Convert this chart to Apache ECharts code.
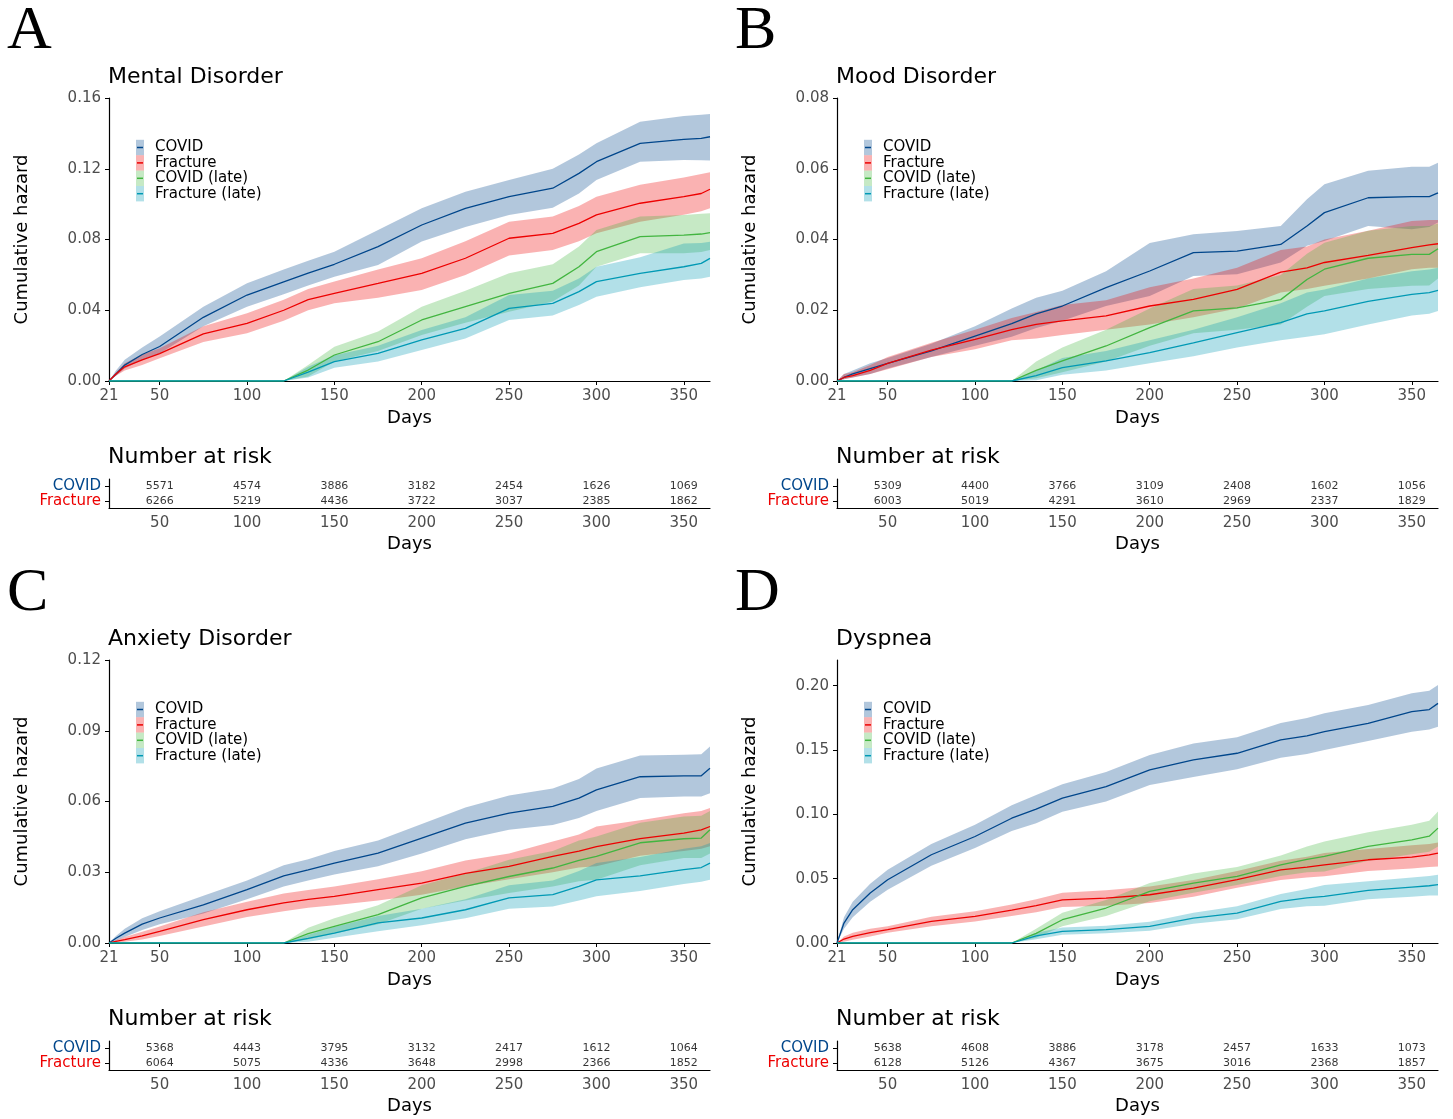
<!DOCTYPE html>
<html>
<head>
<meta charset="utf-8">
<title>Cumulative hazard</title>
<script src="https://cdn.jsdelivr.net/npm/echarts@6/dist/echarts.min.js"></script>
<style>
  html, body { margin: 0; padding: 0; background: #fff; }
  #main { width: 1453px; height: 1119px; }
</style>
</head>
<body>
<div id="main"></div>
<script>
var days = [21, 25, 30, 40, 50, 75, 100, 121, 135, 150, 175, 200, 225, 250, 275, 290, 300, 325, 350, 360, 365];

// A: mental disorder
var mentalCovid     = [0, 0.004, 0.009, 0.015, 0.0195, 0.036, 0.0486, 0.056, 0.061, 0.066, 0.076, 0.0882, 0.0976, 0.1042, 0.109, 0.1174, 0.124, 0.1344, 0.1366, 0.1372, 0.1381];
var mentalCovidLo   = [0, 0.003, 0.007, 0.012, 0.0156, 0.031, 0.042, 0.049, 0.054, 0.059, 0.0656, 0.0788, 0.087, 0.0939, 0.098, 0.106, 0.1136, 0.124, 0.125, 0.1248, 0.1246];
var mentalCovidHi   = [0, 0.006, 0.012, 0.019, 0.0251, 0.042, 0.0552, 0.063, 0.068, 0.0731, 0.0854, 0.0976, 0.107, 0.1136, 0.12, 0.128, 0.1344, 0.1466, 0.1498, 0.1505, 0.151];
var mentalFrac      = [0, 0.004, 0.008, 0.012, 0.0155, 0.0266, 0.0326, 0.040, 0.046, 0.0496, 0.0552, 0.0609, 0.0694, 0.0807, 0.0835, 0.0891, 0.0939, 0.1005, 0.1042, 0.106, 0.1084];
var mentalFracLo    = [0, 0.003, 0.006, 0.009, 0.0128, 0.022, 0.027, 0.034, 0.040, 0.0439, 0.047, 0.0515, 0.06, 0.071, 0.074, 0.079, 0.0835, 0.09, 0.094, 0.096, 0.0976];
var mentalFracHi    = [0, 0.005, 0.010, 0.015, 0.0185, 0.031, 0.0383, 0.046, 0.052, 0.0562, 0.063, 0.0694, 0.079, 0.09, 0.093, 0.099, 0.1042, 0.111, 0.115, 0.117, 0.118];
var mentalCovidL    = [0, 0, 0, 0, 0, 0, 0, 0, 0.0062, 0.0147, 0.0222, 0.0345, 0.042, 0.0496, 0.0552, 0.0646, 0.0731, 0.0816, 0.0825, 0.0831, 0.0839];
var mentalCovidLLo  = [0, 0, 0, 0, 0, 0, 0, 0, 0.0025, 0.011, 0.017, 0.026, 0.033, 0.0392, 0.045, 0.054, 0.0646, 0.0722, 0.0722, 0.073, 0.0741];
var mentalCovidLHi  = [0, 0, 0, 0, 0, 0, 0, 0, 0.009, 0.0194, 0.028, 0.042, 0.051, 0.0609, 0.066, 0.076, 0.0854, 0.093, 0.0939, 0.0945, 0.0948];
var mentalFracL     = [0, 0, 0, 0, 0, 0, 0, 0, 0.005, 0.011, 0.0156, 0.0232, 0.0298, 0.0411, 0.0439, 0.0505, 0.0562, 0.0609, 0.0646, 0.0665, 0.0693];
var mentalFracLLo   = [0, 0, 0, 0, 0, 0, 0, 0, 0.002, 0.0075, 0.011, 0.0175, 0.024, 0.0345, 0.037, 0.043, 0.0477, 0.053, 0.0571, 0.058, 0.059];
var mentalFracLHi   = [0, 0, 0, 0, 0, 0, 0, 0, 0.008, 0.0145, 0.02, 0.0288, 0.036, 0.0486, 0.051, 0.058, 0.0646, 0.070, 0.0778, 0.078, 0.0787];

// B: mood disorder
var moodCovid       = [0, 0.001, 0.002, 0.0035, 0.005, 0.0085, 0.0127, 0.0162, 0.019, 0.0212, 0.0264, 0.0311, 0.0363, 0.0367, 0.0386, 0.0438, 0.0476, 0.0518, 0.0521, 0.0521, 0.0532];
var moodCovidLo     = [0, 0.0005, 0.001, 0.002, 0.0035, 0.0068, 0.01, 0.0125, 0.015, 0.017, 0.0212, 0.024, 0.0297, 0.0302, 0.0335, 0.0382, 0.0396, 0.0438, 0.0429, 0.0435, 0.0448];
var moodCovidHi     = [0, 0.002, 0.003, 0.005, 0.0065, 0.0105, 0.0155, 0.0205, 0.0235, 0.0255, 0.031, 0.039, 0.0415, 0.0424, 0.0438, 0.0514, 0.0556, 0.0594, 0.0606, 0.0606, 0.0617];
var moodFrac        = [0, 0.001, 0.0015, 0.003, 0.005, 0.0087, 0.0118, 0.0145, 0.016, 0.017, 0.0184, 0.0212, 0.0231, 0.0259, 0.0308, 0.032, 0.0335, 0.0355, 0.0377, 0.0385, 0.0388];
var moodFracLo      = [0, 0.0005, 0.001, 0.002, 0.0033, 0.0068, 0.009, 0.0115, 0.012, 0.013, 0.0145, 0.016, 0.018, 0.0205, 0.025, 0.026, 0.0269, 0.029, 0.0316, 0.032, 0.032];
var moodFracHi      = [0, 0.002, 0.0025, 0.0045, 0.0068, 0.0108, 0.0145, 0.0178, 0.0195, 0.0215, 0.0228, 0.0265, 0.029, 0.032, 0.037, 0.038, 0.040, 0.0425, 0.0452, 0.0455, 0.0455];
var moodCovidL      = [0, 0, 0, 0, 0, 0, 0, 0, 0.003, 0.0057, 0.0099, 0.0151, 0.0198, 0.0207, 0.023, 0.0287, 0.0316, 0.0347, 0.0358, 0.0358, 0.0374];
var moodCovidLLo    = [0, 0, 0, 0, 0, 0, 0, 0, 0.0008, 0.0025, 0.0055, 0.010, 0.0135, 0.0145, 0.016, 0.021, 0.024, 0.026, 0.0269, 0.027, 0.029];
var moodCovidLHi    = [0, 0, 0, 0, 0, 0, 0, 0, 0.0055, 0.0095, 0.0145, 0.0205, 0.026, 0.027, 0.030, 0.036, 0.0391, 0.0425, 0.0438, 0.0438, 0.0445];
var moodFracL       = [0, 0, 0, 0, 0, 0, 0, 0, 0.0015, 0.0038, 0.0057, 0.008, 0.0108, 0.0137, 0.0165, 0.019, 0.0198, 0.0225, 0.0245, 0.025, 0.0256];
var moodFracLLo     = [0, 0, 0, 0, 0, 0, 0, 0, 0.0002, 0.0018, 0.003, 0.005, 0.007, 0.0095, 0.0115, 0.0125, 0.0132, 0.016, 0.0185, 0.019, 0.0198];
var moodFracLHi     = [0, 0, 0, 0, 0, 0, 0, 0, 0.003, 0.0065, 0.0085, 0.0115, 0.0145, 0.018, 0.022, 0.025, 0.0259, 0.029, 0.031, 0.0315, 0.032];

// C: anxiety disorder
var anxCovid        = [0, 0.002, 0.0042, 0.008, 0.0106, 0.0162, 0.0226, 0.0285, 0.031, 0.0339, 0.0381, 0.0445, 0.0508, 0.0551, 0.0579, 0.0614, 0.0649, 0.0705, 0.0709, 0.0709, 0.0741];
var anxCovidLo      = [0, 0.001, 0.0025, 0.0055, 0.008, 0.0125, 0.0185, 0.024, 0.0265, 0.029, 0.0325, 0.038, 0.044, 0.048, 0.050, 0.053, 0.056, 0.0615, 0.0621, 0.0621, 0.0635];
var anxCovidHi      = [0, 0.003, 0.006, 0.0105, 0.0135, 0.020, 0.0265, 0.033, 0.0355, 0.039, 0.0435, 0.0505, 0.0575, 0.0625, 0.0655, 0.0695, 0.074, 0.0795, 0.0798, 0.080, 0.0833];
var anxFrac         = [0, 0.0007, 0.0014, 0.003, 0.0049, 0.0099, 0.0141, 0.017, 0.0185, 0.0198, 0.0226, 0.0254, 0.0295, 0.0325, 0.0367, 0.039, 0.0409, 0.0443, 0.0466, 0.048, 0.0494];
var anxFracLo       = [0, 0.0002, 0.0005, 0.0015, 0.003, 0.007, 0.011, 0.0135, 0.015, 0.016, 0.018, 0.0205, 0.024, 0.027, 0.030, 0.032, 0.0325, 0.037, 0.039, 0.040, 0.041];
var anxFracHi       = [0, 0.0012, 0.0025, 0.0048, 0.007, 0.013, 0.0175, 0.021, 0.0225, 0.024, 0.027, 0.0304, 0.035, 0.038, 0.043, 0.046, 0.0494, 0.052, 0.055, 0.056, 0.0572];
var anxCovidL       = [0, 0, 0, 0, 0, 0, 0, 0, 0.004, 0.0071, 0.012, 0.0191, 0.024, 0.0282, 0.0318, 0.035, 0.0367, 0.0425, 0.0442, 0.0445, 0.048];
var anxCovidLLo     = [0, 0, 0, 0, 0, 0, 0, 0, 0.0015, 0.004, 0.008, 0.0145, 0.018, 0.0212, 0.024, 0.0262, 0.0268, 0.033, 0.036, 0.036, 0.038];
var anxCovidLHi     = [0, 0, 0, 0, 0, 0, 0, 0, 0.0065, 0.0105, 0.016, 0.0245, 0.0295, 0.0353, 0.039, 0.0435, 0.0452, 0.051, 0.0536, 0.054, 0.056];
var anxFracL        = [0, 0, 0, 0, 0, 0, 0, 0, 0.002, 0.0042, 0.0085, 0.0106, 0.0141, 0.0191, 0.0205, 0.024, 0.0268, 0.0285, 0.0311, 0.032, 0.0339];
var anxFracLLo      = [0, 0, 0, 0, 0, 0, 0, 0, 0.0005, 0.0022, 0.005, 0.0075, 0.0105, 0.0145, 0.0155, 0.018, 0.0198, 0.022, 0.025, 0.026, 0.0268];
var anxFracLHi      = [0, 0, 0, 0, 0, 0, 0, 0, 0.0035, 0.0068, 0.0115, 0.0145, 0.0185, 0.0245, 0.0265, 0.0305, 0.0339, 0.0365, 0.040, 0.041, 0.0424];

// D: dyspnea
var dysCovid        = [0, 0.0155, 0.0259, 0.0388, 0.0492, 0.0686, 0.0828, 0.097, 0.104, 0.1126, 0.1216, 0.1346, 0.1423, 0.1475, 0.1579, 0.161, 0.1643, 0.1708, 0.1799, 0.1815, 0.1863];
var dysCovidLo      = [0, 0.011, 0.020, 0.032, 0.0414, 0.060, 0.0738, 0.087, 0.093, 0.102, 0.11, 0.1229, 0.129, 0.135, 0.144, 0.147, 0.1501, 0.157, 0.1643, 0.166, 0.1682];
var dysCovidHi      = [0, 0.020, 0.032, 0.046, 0.057, 0.077, 0.0919, 0.107, 0.115, 0.1235, 0.133, 0.1462, 0.155, 0.160, 0.171, 0.175, 0.1786, 0.185, 0.1941, 0.196, 0.2006];
var dysFrac         = [0, 0.0031, 0.0052, 0.008, 0.0104, 0.0168, 0.0207, 0.0255, 0.029, 0.0336, 0.0349, 0.0375, 0.0427, 0.0492, 0.0569, 0.059, 0.0608, 0.0647, 0.0668, 0.0685, 0.0699];
var dysFracLo       = [0, 0.001, 0.0025, 0.005, 0.008, 0.013, 0.0168, 0.021, 0.024, 0.028, 0.029, 0.031, 0.036, 0.043, 0.049, 0.051, 0.0518, 0.056, 0.058, 0.059, 0.0595];
var dysFracHi       = [0, 0.005, 0.008, 0.011, 0.013, 0.0205, 0.0246, 0.030, 0.034, 0.039, 0.041, 0.044, 0.049, 0.056, 0.064, 0.067, 0.0699, 0.073, 0.076, 0.077, 0.0782];
var dysCovidL       = [0, 0, 0, 0, 0, 0, 0, 0, 0.0075, 0.0181, 0.0272, 0.0401, 0.0466, 0.0518, 0.0608, 0.065, 0.0673, 0.0751, 0.0802, 0.083, 0.0893];
var dysCovidLLo     = [0, 0, 0, 0, 0, 0, 0, 0, 0.004, 0.013, 0.021, 0.0324, 0.039, 0.045, 0.052, 0.055, 0.0556, 0.064, 0.069, 0.071, 0.0751];
var dysCovidLHi     = [0, 0, 0, 0, 0, 0, 0, 0, 0.011, 0.0235, 0.0335, 0.0466, 0.054, 0.059, 0.068, 0.075, 0.0789, 0.086, 0.092, 0.095, 0.1022];
var dysFracL        = [0, 0, 0, 0, 0, 0, 0, 0, 0.0055, 0.0091, 0.0104, 0.0129, 0.0194, 0.0233, 0.0324, 0.035, 0.0362, 0.0409, 0.0435, 0.0445, 0.0453];
var dysFracLLo      = [0, 0, 0, 0, 0, 0, 0, 0, 0.003, 0.0065, 0.0075, 0.0095, 0.015, 0.0185, 0.0265, 0.0285, 0.029, 0.034, 0.036, 0.037, 0.037];
var dysFracLHi      = [0, 0, 0, 0, 0, 0, 0, 0, 0.008, 0.012, 0.0135, 0.0165, 0.0235, 0.0285, 0.038, 0.042, 0.045, 0.048, 0.051, 0.052, 0.0531];

// number at risk tables
var riskDays = [50, 100, 150, 200, 250, 300, 350];
var mentalRiskCovid = [5571, 4574, 3886, 3182, 2454, 1626, 1069];
var mentalRiskFrac  = [6266, 5219, 4436, 3722, 3037, 2385, 1862];
var moodRiskCovid   = [5309, 4400, 3766, 3109, 2408, 1602, 1056];
var moodRiskFrac    = [6003, 5019, 4291, 3610, 2969, 2337, 1829];
var anxRiskCovid    = [5368, 4443, 3795, 3132, 2417, 1612, 1064];
var anxRiskFrac     = [6064, 5075, 4336, 3648, 2998, 2366, 1852];
var dysRiskCovid    = [5638, 4608, 3886, 3178, 2457, 1633, 1073];
var dysRiskFrac     = [6128, 5126, 4367, 3675, 3016, 2368, 1857];

// tick labels
var xTicks = [21, 50, 100, 150, 200, 250, 300, 350];
var mentalTicks = [0, 0.04, 0.08, 0.12, 0.16];
var moodTicks   = [0, 0.02, 0.04, 0.06, 0.08];
var anxTicks    = [0, 0.03, 0.06, 0.09, 0.12];
var dysTicks    = [0, 0.05, 0.10, 0.15, 0.20];

var groups = ['COVID', 'Fracture', 'COVID (late)', 'Fracture (late)'];
var lineColors = ['#00468B', '#ED0000', '#42B540', '#0099B4'];
var bandColors = ['rgba(0,70,139,0.3)', 'rgba(237,0,0,0.3)', 'rgba(66,181,64,0.3)', 'rgba(0,153,180,0.3)'];

var panels = [
    { letter: 'A', title: 'Mental Disorder', dx: 0, dy: 0, max: 0.16, ticks: mentalTicks,
      est: [mentalCovid, mentalFrac, mentalCovidL, mentalFracL],
      lo: [mentalCovidLo, mentalFracLo, mentalCovidLLo, mentalFracLLo],
      hi: [mentalCovidHi, mentalFracHi, mentalCovidLHi, mentalFracLHi],
      riskCovid: mentalRiskCovid, riskFrac: mentalRiskFrac },
    { letter: 'B', title: 'Mood Disorder', dx: 728, dy: 0, max: 0.08, ticks: moodTicks,
      est: [moodCovid, moodFrac, moodCovidL, moodFracL],
      lo: [moodCovidLo, moodFracLo, moodCovidLLo, moodFracLLo],
      hi: [moodCovidHi, moodFracHi, moodCovidLHi, moodFracLHi],
      riskCovid: moodRiskCovid, riskFrac: moodRiskFrac },
    { letter: 'C', title: 'Anxiety Disorder', dx: 0, dy: 562, max: 0.12, ticks: anxTicks,
      est: [anxCovid, anxFrac, anxCovidL, anxFracL],
      lo: [anxCovidLo, anxFracLo, anxCovidLLo, anxFracLLo],
      hi: [anxCovidHi, anxFracHi, anxCovidLHi, anxFracLHi],
      riskCovid: anxRiskCovid, riskFrac: anxRiskFrac },
    { letter: 'D', title: 'Dyspnea', dx: 728, dy: 562, max: 0.22, ticks: dysTicks,
      est: [dysCovid, dysFrac, dysCovidL, dysFracL],
      lo: [dysCovidLo, dysFracLo, dysCovidLLo, dysFracLLo],
      hi: [dysCovidHi, dysFracHi, dysCovidLHi, dysFracLHi],
      riskCovid: dysRiskCovid, riskFrac: dysRiskFrac }
];

var myChart = echarts.init(document.getElementById('main'));

var axisLine = { show: true, lineStyle: { color: '#000', width: 1.2 } };
var nameStyle = { fontSize: 18, color: '#000' };

// confidence band drawn as one polygon
function makeBand(axisIdx, lo, hi, color) {
    return {
        type: 'custom',
        xAxisIndex: axisIdx,
        yAxisIndex: axisIdx,
        silent: true,
        data: days.map(function (d, i) { return [d, lo[i], hi[i]]; }),
        encode: { x: 0, y: [1, 2] },
        renderItem: function (params, api) {
            if (params.dataIndex !== 0) return;
            var up = [], down = [];
            for (var i = 0; i < days.length; i++) {
                up.push(api.coord([days[i], hi[i]]));
                down.push(api.coord([days[i], lo[i]]));
            }
            return {
                type: 'polygon',
                shape: { points: up.concat(down.reverse()) },
                style: { fill: color }
            };
        },
        z: 2
    };
}

var grids = [], xAxes = [], yAxes = [], series = [], graphics = [];

panels.forEach(function (p, k) {
    var plot = 2 * k, table = 2 * k + 1;

    grids.push({ left: 109 + p.dx, top: 98 + p.dy, width: 601, height: 283 });
    grids.push({ left: 109 + p.dx, top: 479 + p.dy, width: 601, height: 29 });

    xAxes.push({
        gridIndex: plot, type: 'value', min: 21, max: 365,
        axisLine: axisLine,
        axisTick: { customValues: xTicks, length: 4, lineStyle: { color: '#000' } },
        axisLabel: { customValues: xTicks, color: '#4d4d4d', fontSize: 15, margin: 8 },
        splitLine: { show: false },
        name: 'Days', nameLocation: 'middle', nameGap: 28, nameTextStyle: nameStyle
    });
    yAxes.push({
        gridIndex: plot, type: 'value', min: 0, max: p.max,
        axisLine: axisLine,
        axisTick: { show: true, customValues: p.ticks, length: 4, lineStyle: { color: '#000' } },
        axisLabel: {
            customValues: p.ticks, color: '#4d4d4d', fontSize: 15, margin: 8,
            formatter: function (v) { return v.toFixed(2); }
        },
        splitLine: { show: false },
        name: 'Cumulative hazard', nameLocation: 'middle', nameGap: 78, nameTextStyle: nameStyle
    });

    xAxes.push({
        gridIndex: table, type: 'value', min: 21, max: 365,
        axisLine: axisLine,
        axisTick: { customValues: riskDays, length: 4, lineStyle: { color: '#000' } },
        axisLabel: { customValues: riskDays, color: '#4d4d4d', fontSize: 15, margin: 8 },
        splitLine: { show: false },
        name: 'Days', nameLocation: 'middle', nameGap: 27, nameTextStyle: nameStyle
    });
    yAxes.push({
        gridIndex: table, type: 'category', data: ['Fracture', 'COVID'],
        axisLine: axisLine,
        axisTick: { show: true, alignWithLabel: true, interval: 0, length: 4, lineStyle: { color: '#000' } },
        axisLabel: {
            fontSize: 15, margin: 8, interval: 0, hideOverlap: false,
            color: function (v) { return v === 'COVID' ? lineColors[0] : lineColors[1]; }
        },
        splitLine: { show: false }
    });

    // bands first, lines on top
    for (var g = 0; g < 4; g++) {
        series.push(makeBand(plot, p.lo[g], p.hi[g], bandColors[g]));
    }
    for (var g2 = 0; g2 < 4; g2++) {
        var est = p.est[g2];
        series.push({
            type: 'line', name: groups[g2],
            xAxisIndex: plot, yAxisIndex: plot,
            data: days.map(function (d, i) { return [d, est[i]]; }),
            showSymbol: false, symbol: 'none', silent: true,
            lineStyle: { color: lineColors[g2], width: 1.3 },
            itemStyle: { color: lineColors[g2] },
            z: 3
        });
    }

    // number at risk
    var riskData = riskDays.map(function (d, i) { return [d, 'COVID', p.riskCovid[i]]; })
        .concat(riskDays.map(function (d, i) { return [d, 'Fracture', p.riskFrac[i]]; }));
    series.push({
        type: 'scatter', xAxisIndex: table, yAxisIndex: table,
        data: riskData, symbolSize: 1, silent: true,
        itemStyle: { color: 'rgba(0,0,0,0)' },
        label: {
            show: true, position: 'inside', fontSize: 11, color: '#000',
            formatter: function (q) { return q.value[2]; }
        }
    });

    // letters and titles
    graphics.push({ type: 'text', x: 7 + p.dx, y: 32 + p.dy,
        style: { text: p.letter, font: '62px "Liberation Serif"', fill: '#000', textVerticalAlign: 'middle' } });
    graphics.push({ type: 'text', x: 108 + p.dx, y: 77.5 + p.dy,
        style: { text: p.title, font: '22px "DejaVu Sans"', fill: '#000', textVerticalAlign: 'middle' } });
    graphics.push({ type: 'text', x: 108 + p.dx, y: 457.5 + p.dy,
        style: { text: 'Number at risk', font: '22px "DejaVu Sans"', fill: '#000', textVerticalAlign: 'middle' } });

    // legend keys
    for (var j = 0; j < 4; j++) {
        var cy = 147.5 + j * 15.4 + p.dy;
        graphics.push({ type: 'rect', shape: { x: 136 + p.dx, y: cy - 7.7, width: 8, height: 15.4 },
            style: { fill: bandColors[j] } });
        graphics.push({ type: 'line', shape: { x1: 137 + p.dx, y1: cy, x2: 143 + p.dx, y2: cy },
            style: { stroke: lineColors[j], lineWidth: 1.5 } });
        graphics.push({ type: 'text', x: 155 + p.dx, y: cy,
            style: { text: groups[j], font: '15px "DejaVu Sans"', fill: '#000', textVerticalAlign: 'middle' } });
    }
});

var option = {
    animation: false,
    backgroundColor: '#fff',
    textStyle: { fontFamily: 'DejaVu Sans' },
    grid: grids,
    xAxis: xAxes,
    yAxis: yAxes,
    series: series,
    graphic: graphics
};

myChart.setOption(option);
</script>
</body>
</html>
